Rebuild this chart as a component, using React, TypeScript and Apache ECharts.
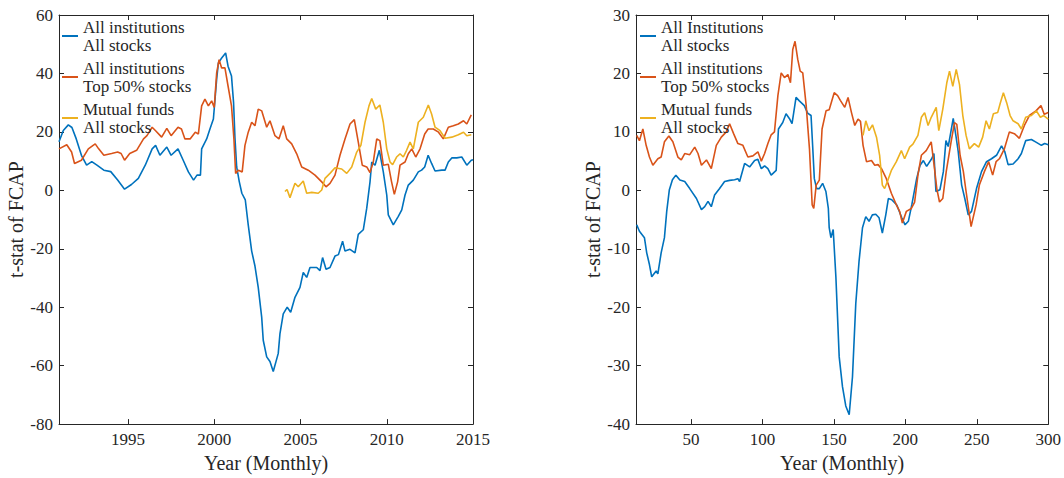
import React, { useEffect, useRef } from "react";
import * as echarts from "echarts";

// ---------- data ----------
const leftNames = ["All institutions\nAll stocks", "All institutions\nTop 50% stocks", "Mutual funds\nAll stocks"];
const rightNames = ["All Institutions\nAll stocks", "All institutions\nTop 50% stocks", "Mutual funds\nAll stocks"];
const colors = ["#0072BD", "#D95319", "#EDB120"];

const leftYearTicks = [1995, 2000, 2005, 2010, 2015];
const rightIndexTicks = [50, 100, 150, 200, 250, 300];

// Left panel: x = year (monthly), y = t-stat
const leftAllInstAll: [number, number][] = [
  [1991.0, 16.6], [1991.25, 20.5], [1991.54, 22.4], [1991.75, 21.5], [1992.0, 17.6], [1992.3, 12.0],
  [1992.6, 8.6], [1992.9, 9.8], [1993.2, 8.6], [1993.6, 6.9], [1994.0, 6.4], [1994.4, 3.5],
  [1994.8, 0.4], [1995.2, 2.0], [1995.6, 4.1], [1996.0, 8.6], [1996.4, 14.2], [1996.6, 15.4],
  [1996.85, 12.0], [1997.25, 14.8], [1997.5, 12.0], [1997.9, 14.2], [1998.2, 10.3], [1998.5, 6.3],
  [1998.8, 3.5], [1999.0, 5.2], [1999.2, 5.2], [1999.27, 14.2], [1999.56, 17.6], [1999.75, 21.0],
  [1999.95, 24.4], [2000.14, 38.0], [2000.24, 43.6], [2000.43, 45.3], [2000.66, 47.0], [2000.8, 42.5],
  [2001.0, 39.1], [2001.12, 30.0], [2001.2, 18.0], [2001.3, 8.0], [2001.45, 3.0], [2001.6, -1.0],
  [2001.8, -3.3], [2001.97, -11.8], [2002.17, -20.8], [2002.36, -25.9], [2002.55, -33.2], [2002.75, -43.4],
  [2002.84, -51.3], [2003.04, -57.0], [2003.23, -58.6], [2003.42, -62.0], [2003.71, -55.8], [2003.81, -49.0],
  [2004.0, -42.3], [2004.23, -40.0], [2004.43, -41.7], [2004.68, -36.6], [2004.97, -33.2], [2005.16, -28.1],
  [2005.36, -29.8], [2005.55, -26.4], [2005.94, -26.4], [2006.13, -27.5], [2006.28, -23.0], [2006.48, -27.0],
  [2006.71, -26.4], [2007.0, -22.5], [2007.2, -22.0], [2007.44, -17.4], [2007.58, -20.8], [2007.87, -20.2],
  [2008.16, -21.4], [2008.35, -15.1], [2008.64, -13.5], [2008.84, -6.1], [2009.03, 2.9], [2009.13, 9.7],
  [2009.32, 8.6], [2009.57, 13.7], [2009.8, 6.3], [2010.0, -1.6], [2010.09, -8.4], [2010.38, -11.8],
  [2010.67, -8.9], [2010.87, -6.7], [2011.06, -1.6], [2011.25, 1.8], [2011.54, 3.5], [2011.83, 6.3],
  [2012.02, 6.9], [2012.2, 8.0], [2012.4, 12.0], [2012.6, 9.2], [2012.8, 6.6], [2013.19, 6.9],
  [2013.38, 6.9], [2013.57, 9.7], [2013.77, 11.1], [2014.06, 11.1], [2014.35, 11.4], [2014.64, 8.6],
  [2014.9, 10.3], [2015.0, 10.5],
];

const leftAllInstTop50: [number, number][] = [
  [1991.0, 14.2], [1991.45, 15.6], [1991.73, 13.1], [1991.9, 9.2], [1992.3, 10.3], [1992.7, 14.2],
  [1993.1, 15.9], [1993.3, 14.2], [1993.6, 12.0], [1994.05, 12.6], [1994.4, 13.1], [1994.6, 12.6],
  [1994.8, 10.3], [1995.1, 12.6], [1995.5, 13.7], [1995.9, 17.6], [1996.1, 18.7], [1996.4, 21.6],
  [1996.6, 20.4], [1996.95, 18.2], [1997.25, 21.2], [1997.5, 18.7], [1997.9, 21.6], [1998.1, 21.0],
  [1998.3, 17.6], [1998.6, 17.6], [1998.9, 19.9], [1999.08, 19.3], [1999.27, 28.9], [1999.46, 31.2],
  [1999.66, 28.9], [1999.85, 30.6], [2000.0, 28.4], [2000.14, 40.2], [2000.28, 44.7], [2000.43, 41.9],
  [2000.62, 41.9], [2000.8, 35.7], [2001.0, 28.9], [2001.14, 17.6], [2001.24, 5.8], [2001.4, 6.9],
  [2001.62, 6.3], [2001.78, 15.4], [2001.97, 19.9], [2002.17, 23.3], [2002.36, 22.1], [2002.55, 27.8],
  [2002.75, 27.2], [2003.04, 21.6], [2003.23, 23.8], [2003.52, 18.7], [2003.75, 17.6], [2004.0, 22.1],
  [2004.2, 17.6], [2004.49, 15.9], [2004.78, 12.5], [2005.07, 8.0], [2005.45, 6.9], [2005.84, 5.2],
  [2006.23, 2.9], [2006.48, 1.2], [2006.71, 2.4], [2007.0, 5.2], [2007.29, 12.0], [2007.58, 17.6],
  [2007.87, 22.7], [2008.12, 24.2], [2008.35, 16.5], [2008.58, 8.6], [2008.84, 8.0], [2009.03, 6.1],
  [2009.22, 9.7], [2009.42, 17.6], [2009.6, 17.0], [2009.8, 8.6], [2010.09, 8.9], [2010.28, 2.9],
  [2010.44, -1.4], [2010.63, 2.9], [2010.77, 8.6], [2011.06, 9.7], [2011.25, 12.5], [2011.45, 14.2],
  [2011.68, 11.4], [2011.93, 14.2], [2012.2, 19.3], [2012.4, 21.0], [2012.7, 21.0], [2013.0, 19.9],
  [2013.28, 17.6], [2013.57, 21.6], [2013.86, 22.1], [2014.15, 22.7], [2014.45, 23.8], [2014.64, 22.7],
  [2014.9, 25.8],
];

const leftMutualAll: [number, number][] = [
  [2004.1, -0.4], [2004.22, 0.3], [2004.39, -2.5], [2004.68, 2.4], [2004.87, 1.2], [2005.16, 3.2],
  [2005.36, -1.0], [2005.65, -0.7], [2006.03, -1.0], [2006.23, 0.1], [2006.42, 4.1], [2006.71, 5.8],
  [2007.0, 7.7], [2007.39, 7.3], [2007.68, 5.8], [2007.97, 8.0], [2008.26, 13.1], [2008.5, 15.4],
  [2008.74, 23.3], [2008.97, 28.9], [2009.13, 31.4], [2009.36, 27.8], [2009.6, 29.2], [2009.8, 23.3],
  [2010.0, 14.2], [2010.19, 9.7], [2010.34, 8.8], [2010.57, 11.4], [2010.77, 12.5], [2010.96, 11.4],
  [2011.15, 13.7], [2011.35, 16.5], [2011.54, 14.2], [2011.83, 23.3], [2012.12, 25.0], [2012.41, 29.2],
  [2012.6, 26.1], [2012.8, 21.6], [2013.09, 20.4], [2013.38, 17.8], [2013.77, 18.2], [2014.15, 19.0],
  [2014.45, 19.9], [2014.64, 18.7], [2014.9, 19.0],
];

// Right panel: x = month index, y = t-stat
const rightAllInstAll: [number, number][] = [
  [12, -5.9], [13.9, -7.0], [17.4, -8.1], [19.0, -10.7], [20.9, -12.7], [22.5, -14.8], [25.6, -13.8],
  [26.8, -14.3], [29.1, -10.7], [31.4, -8.1], [33.0, -3.6], [34.8, 0.05], [37, 1.8], [39.4, 2.6],
  [42.2, 1.75], [45.6, 1.5], [49.1, 0.3], [53.8, -1.4], [57.3, -3.3], [59.6, -2.8], [61.9, -1.9],
  [64.2, -2.8], [66.5, -0.8], [70.0, 0.3], [73.5, 1.5], [77.0, 1.7], [80.5, 1.8], [82.8, 2.0],
  [84.0, 1.5], [87.5, 4.6], [91.0, 4.0], [94.5, 5.1], [96.8, 5.3], [99.2, 3.7], [101.5, 4.2],
  [103.8, 3.7], [106.1, 2.6], [109.6, 3.4], [111.2, 10.5], [114.2, 11.6], [116.5, 13.1], [118.8, 12.3],
  [120.7, 11.4], [123.5, 15.9], [125.8, 15.3], [129.3, 14.5], [131.6, 13.2], [134.0, 12.8], [135.1, 7.7],
  [136.3, 2.0], [137.9, 0.3], [139.8, 0.3], [142.1, 1.2], [144.4, -0.2], [146.1, -3.1], [146.7, -6.4],
  [147.9, -8.1], [149.5, -6.7], [151.4, -14.9], [153.7, -28.5], [156.0, -33.6], [158.3, -36.9],
  [160.7, -38.4], [163.0, -31.9], [165.3, -19.4], [167.6, -12.1], [170.0, -6.4], [172.3, -4.5],
  [174.6, -5.3], [176.9, -4.2], [179.3, -4.1], [181.6, -4.7], [183.9, -7.3], [186.3, -4.2], [188.1, -1.4],
  [190.5, -1.6], [194.0, -2.5], [197.5, -4.7], [199.8, -5.9], [202.1, -5.3], [204.5, -2.5], [207.9, 2.0],
  [210.3, 4.3], [212.6, 5.1], [214.9, 4.1], [218.4, 5.4], [220.0, 6.3], [221.4, -0.2], [224.2, 0.1],
  [226.6, 3.2], [228.4, 8.5], [230.0, 7.5], [231.2, 9.1], [233.5, 12.3], [235.4, 9.3], [237.0, 6.6],
  [239.4, 0.9], [241.6, -1.4], [244.0, -4.2], [246.3, -3.6], [249.8, 0.3], [253.3, 3.2], [256.8, 4.9],
  [260.3, 5.4], [263.8, 6.0], [267.3, 7.6], [269.6, 6.6], [271.9, 4.4], [275.4, 4.5], [278.9, 5.4],
  [281.2, 6.3], [284.2, 8.5], [288.2, 8.7], [291.7, 8.2], [295.2, 7.7], [297.5, 8.0], [300, 7.8],
];

const rightAllInstTop50: [number, number][] = [
  [12, 9.4], [13.9, 8.5], [16.3, 10.5], [18.6, 7.7], [20.9, 5.7], [23.3, 4.3], [26.8, 5.4], [29.1, 5.7],
  [31.4, 8.3], [34.5, 9.3], [37.3, 8.3], [40.8, 5.7], [43.2, 5.2], [45.6, 6.3], [49.1, 6.1], [52.6, 7.4],
  [54.9, 6.3], [57.3, 4.3], [60.8, 5.2], [64.2, 3.7], [67.7, 7.7], [71.2, 9.1], [74.7, 10.0], [77.0, 11.4],
  [79.8, 9.7], [82.8, 8.0], [86.3, 7.7], [89.8, 5.7], [93.3, 5.9], [96.8, 6.6], [99.2, 5.0], [101.5, 6.3],
  [103.8, 8.0], [106.1, 9.5], [108.4, 10.0], [110.8, 16.2], [113.1, 20.1], [115.4, 19.3], [117.8, 19.8],
  [119.6, 18.4], [121.2, 24.1], [122.8, 25.5], [124.7, 22.4], [126.4, 20.4], [128.2, 20.1], [130.6, 14.5],
  [132.9, 7.1], [134.8, -2.5], [135.9, -3.1], [137.6, 0.9], [139.8, 1.75], [141.7, 10.5], [144.5, 13.6],
  [146.7, 13.8], [150.2, 16.7], [152.6, 16.2], [154.5, 15.4], [157.6, 14.2], [159.9, 15.9], [162.3, 13.3],
  [164.6, 11.1], [166.9, 12.2], [168.6, 11.8], [170.4, 7.7], [172.8, 4.9], [176.3, 5.1], [178.6, 4.3],
  [180.9, 4.4], [183.3, 3.7], [186.7, 2.0], [190.2, -0.5], [193.7, -2.5], [196.0, -3.6], [197.9, -5.6],
  [200.7, -3.6], [204.2, -3.1], [206.5, -2.0], [208.8, 2.6], [211.2, 6.0], [214.6, 6.8], [218.1, 8.3],
  [220.4, 3.7], [222.0, 0.3], [223.9, -2.0], [226.2, -1.4], [228.6, 3.2], [232.0, 8.3], [234.4, 11.6],
  [236.0, 11.3], [238.3, 6.0], [240.6, 3.2], [242.5, -0.2], [246.0, -6.2], [249.5, -2.5], [251.8, 0.9],
  [255.3, 3.2], [258.3, 4.9], [261.1, 2.6], [263.5, 4.9], [265.8, 5.4], [269.3, 7.1], [272.8, 10.0],
  [276.3, 9.7], [279.8, 8.9], [283.3, 11.1], [286.8, 12.8], [291.4, 13.6], [294.9, 14.5], [297.2, 13.0],
  [300, 13.3],
];

const rightMutualAll: [number, number][] = [
  [170.4, 9.4], [172.3, 11.9], [174.6, 10.2], [177.0, 11.2], [179.8, 9.1], [182.0, 6.0], [183.9, 0.9],
  [185.5, 0.3], [187.8, 1.75], [190.2, 3.4], [193.7, 4.9], [197.2, 6.8], [199.5, 5.4], [203.0, 7.4],
  [205.3, 7.9], [208.8, 9.4], [211.2, 12.5], [213.5, 13.3], [215.9, 11.1], [218.1, 12.5], [221.6, 14.2],
  [223.4, 10.2], [226.2, 13.9], [229.0, 18.4], [230.9, 20.4], [233.2, 17.8], [235.6, 20.7], [237.9, 18.1],
  [240.2, 12.8], [242.5, 9.4], [244.8, 7.1], [248.3, 8.0], [251.3, 7.4], [254.1, 9.1], [256.5, 11.9],
  [258.8, 10.5], [261.6, 13.1], [264.6, 13.3], [266.5, 15.0], [268.6, 16.7], [270.9, 15.0], [273.3, 12.8],
  [275.4, 11.9], [278.9, 11.4], [281.2, 10.5], [284.2, 12.5], [288.2, 12.8], [291.7, 13.6], [294.5, 12.5],
  [296.8, 12.8], [300, 12.2],
];

// ---------- styling ----------
const FONT = "'Liberation Serif', 'Times New Roman', serif";
const INK = "#262626";
const lineStyle = { color: INK, width: 1 };

function xAxes(gridIndex: number, min: number, max: number, ticks: number[]) {
  const base = {
    type: "value" as const,
    gridIndex,
    min,
    max,
    splitLine: { show: false },
    axisLine: { show: true, onZero: false, lineStyle },
    axisTick: { show: true, inside: true, length: 5, lineStyle },
  };
  return [
    {
      ...base,
      position: "bottom",
      axisLabel: {
        showMinLabel: false,
        color: INK,
        fontFamily: FONT,
        fontSize: 17,
        margin: 7,
        formatter: (v: number) => (ticks.includes(v) ? String(v) : ""),
      },
      name: "Year (Monthly)",
      nameLocation: "middle",
      nameGap: 25,
      nameTextStyle: { color: INK, fontFamily: FONT, fontSize: 20 },
    },
    { ...base, position: "top", axisLabel: { show: false } },
  ];
}

function yAxes(gridIndex: number, min: number, max: number, interval: number) {
  const base = {
    type: "value" as const,
    gridIndex,
    min,
    max,
    interval,
    splitLine: { show: false },
    axisLine: { show: true, onZero: false, lineStyle },
    axisTick: { show: true, inside: true, length: 5, lineStyle },
  };
  return [
    {
      ...base,
      position: "left",
      axisLabel: { color: INK, fontFamily: FONT, fontSize: 17, margin: 6, formatter: (v: number) => String(v) },
      name: "t-stat of FCAP",
      nameLocation: "middle",
      nameGap: 31,
      nameTextStyle: { color: INK, fontFamily: FONT, fontSize: 20 },
    },
    { ...base, position: "right", axisLabel: { show: false } },
  ];
}

function legend(left: number, names: string[]) {
  return {
    orient: "vertical",
    left,
    top: 18,
    padding: 0,
    itemGap: 5,
    itemWidth: 16,
    itemHeight: 2,
    icon: "rect",
    data: names,
    textStyle: { color: INK, fontFamily: FONT, fontSize: 17, lineHeight: 18 },
  };
}

function line(name: string, data: [number, number][], color: string, xi: number, yi: number) {
  return {
    type: "line",
    name,
    data,
    xAxisIndex: xi,
    yAxisIndex: yi,
    showSymbol: false,
    symbol: "none",
    lineStyle: { color, width: 1.6 },
    itemStyle: { color },
    z: 3,
  };
}

export default function App() {
  const ref = useRef<HTMLDivElement>(null);
  useEffect(() => {
    if (!ref.current) return;
    const chart = echarts.init(ref.current, undefined, { renderer: "svg" });
    chart.setOption({
      animation: false,
      backgroundColor: "#ffffff",
      grid: [
        { left: 59, top: 15, width: 414, height: 413 },
        { left: 636, top: 15, width: 414, height: 413 },
      ],
      legend: [legend(62, leftNames), legend(640, rightNames)],
      xAxis: [...xAxes(0, 1991, 2015, leftYearTicks), ...xAxes(1, 11.5, 300, rightIndexTicks)],
      yAxis: [...yAxes(0, -80, 60, 20), ...yAxes(1, -40, 30, 10)],
      series: [
        line(leftNames[0], leftAllInstAll, colors[0], 0, 0),
        line(leftNames[1], leftAllInstTop50, colors[1], 0, 0),
        line(leftNames[2], leftMutualAll, colors[2], 0, 0),
        line(rightNames[0], rightAllInstAll, colors[0], 2, 2),
        line(rightNames[1], rightAllInstTop50, colors[1], 2, 2),
        line(rightNames[2], rightMutualAll, colors[2], 2, 2),
      ],
    });
    return () => chart.dispose();
  }, []);
  return (
    <div
      ref={ref}
      style={{ position: "absolute", left: 0, top: 0, width: 1064, height: 478, background: "#fff" }}
    />
  );
}
